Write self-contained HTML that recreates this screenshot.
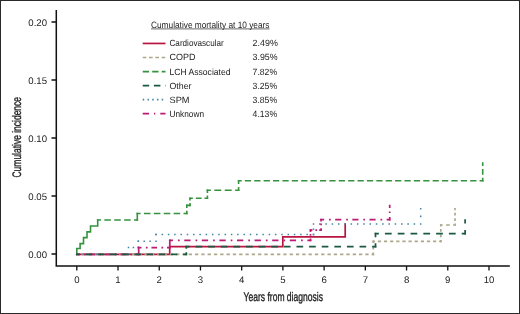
<!DOCTYPE html>
<html><head><meta charset="utf-8"><style>
html,body{margin:0;padding:0;background:#fff;}
body{width:520px;height:314px;overflow:hidden;}
svg{display:block;will-change:transform;}
text{font-family:"Liberation Sans",sans-serif;fill:#222;text-rendering:geometricPrecision;}
</style></head><body>
<svg width="520" height="314" viewBox="0 0 520 314">
<rect x="0" y="0" width="520" height="314" fill="#fff"/>
<rect x="0.5" y="0.5" width="519" height="313" fill="none" stroke="#2a2a2a" stroke-width="1"/>
<path d="M56.3,10 L56.3,266.6 M55.5,265.9 L509.8,265.9" stroke="#111" stroke-width="1.5" fill="none"/>
<path d="M51.5,22.0 L56,22.0 M51.5,80.0 L56,80.0 M51.5,138.0 L56,138.0 M51.5,196.0 L56,196.0 M51.5,254.0 L56,254.0 M76.80,266 L76.80,270.4 M118.02,266 L118.02,270.4 M159.24,266 L159.24,270.4 M200.46,266 L200.46,270.4 M241.68,266 L241.68,270.4 M282.90,266 L282.90,270.4 M324.12,266 L324.12,270.4 M365.34,266 L365.34,270.4 M406.56,266 L406.56,270.4 M447.78,266 L447.78,270.4 M489.00,266 L489.00,270.4 " stroke="#111" stroke-width="1.3" fill="none"/>
<text x="47.00" y="25.50" font-size="9.60" text-anchor="end">0.20</text>
<text x="47.00" y="83.50" font-size="9.60" text-anchor="end">0.15</text>
<text x="47.00" y="141.50" font-size="9.60" text-anchor="end">0.10</text>
<text x="47.00" y="199.50" font-size="9.60" text-anchor="end">0.05</text>
<text x="47.00" y="257.50" font-size="9.60" text-anchor="end">0.00</text>
<text x="76.80" y="283.40" font-size="9.60" text-anchor="middle">0</text>
<text x="118.02" y="283.40" font-size="9.60" text-anchor="middle">1</text>
<text x="159.24" y="283.40" font-size="9.60" text-anchor="middle">2</text>
<text x="200.46" y="283.40" font-size="9.60" text-anchor="middle">3</text>
<text x="241.68" y="283.40" font-size="9.60" text-anchor="middle">4</text>
<text x="282.90" y="283.40" font-size="9.60" text-anchor="middle">5</text>
<text x="324.12" y="283.40" font-size="9.60" text-anchor="middle">6</text>
<text x="365.34" y="283.40" font-size="9.60" text-anchor="middle">7</text>
<text x="406.56" y="283.40" font-size="9.60" text-anchor="middle">8</text>
<text x="447.78" y="283.40" font-size="9.60" text-anchor="middle">9</text>
<text x="489.00" y="283.40" font-size="9.60" text-anchor="middle">10</text>
<text x="243.60" y="300.60" font-size="12.40" textLength="79.30" lengthAdjust="spacingAndGlyphs" stroke="#222" stroke-width="0.35">Years from diagnosis</text>
<text x="151.00" y="27.50" font-size="9.20" textLength="118.50" lengthAdjust="spacingAndGlyphs">Cumulative mortality at 10 years</text>
<text x="169.50" y="46.40" font-size="9.00" textLength="54.20" lengthAdjust="spacingAndGlyphs">Cardiovascular</text>
<text x="252.60" y="46.40" font-size="9.00" textLength="25.20" lengthAdjust="spacingAndGlyphs">2.49%</text>
<text x="169.50" y="60.45" font-size="9.00" textLength="26.00" lengthAdjust="spacingAndGlyphs">COPD</text>
<text x="252.60" y="60.45" font-size="9.00" textLength="25.00" lengthAdjust="spacingAndGlyphs">3.95%</text>
<text x="169.50" y="74.50" font-size="9.00" textLength="61.00" lengthAdjust="spacingAndGlyphs">LCH Associated</text>
<text x="252.60" y="74.50" font-size="9.00" textLength="24.50" lengthAdjust="spacingAndGlyphs">7.82%</text>
<text x="169.50" y="88.55" font-size="9.00" textLength="22.00" lengthAdjust="spacingAndGlyphs">Other</text>
<text x="252.60" y="88.55" font-size="9.00" textLength="24.50" lengthAdjust="spacingAndGlyphs">3.25%</text>
<text x="169.50" y="102.60" font-size="9.00" textLength="20.00" lengthAdjust="spacingAndGlyphs">SPM</text>
<text x="252.60" y="102.60" font-size="9.00" textLength="24.50" lengthAdjust="spacingAndGlyphs">3.85%</text>
<text x="169.50" y="116.65" font-size="9.00" textLength="34.50" lengthAdjust="spacingAndGlyphs">Unknown</text>
<text x="252.60" y="116.65" font-size="9.00" textLength="24.50" lengthAdjust="spacingAndGlyphs">4.13%</text>
<text transform="translate(21.00,177.50) rotate(-90)" x="0" y="0" font-size="12.40" stroke="#222" stroke-width="0.35" textLength="80.50" lengthAdjust="spacingAndGlyphs">Cumulative incidence</text>
<path d="M76.80,254.30 L169.70,254.30 M169.70,254.30 L169.70,246.70 M169.70,246.70 L282.80,246.70 M282.80,246.70 L282.80,236.80 M282.80,236.80 L345.20,236.80 M345.20,236.80 L345.20,224.20" stroke="#b81540" stroke-width="1.70" fill="none" stroke-linecap="square"/>
<path d="M76.80,254.30 L373.30,254.30" stroke="#aea88a" stroke-width="1.70" fill="none" stroke-linecap="square" stroke-dasharray="1.604 4.704" stroke-dashoffset="0.802"/>
<path d="M373.30,254.30 L373.30,241.30" stroke="#aea88a" stroke-width="1.70" fill="none" stroke-linecap="square" stroke-dasharray="1.705 4.795" stroke-dashoffset="0.852"/>
<path d="M373.30,241.30 L440.80,241.30" stroke="#aea88a" stroke-width="1.70" fill="none" stroke-linecap="square" stroke-dasharray="1.514 4.622" stroke-dashoffset="0.757"/>
<path d="M440.80,241.30 L440.80,225.00" stroke="#aea88a" stroke-width="1.70" fill="none" stroke-linecap="square" stroke-dasharray="1.146 4.287" stroke-dashoffset="0.573"/>
<path d="M440.80,225.00 L455.00,225.00" stroke="#aea88a" stroke-width="1.70" fill="none" stroke-linecap="square" stroke-dasharray="2.019 5.081" stroke-dashoffset="1.010"/>
<path d="M455.00,225.00 L455.00,208.80" stroke="#aea88a" stroke-width="1.70" fill="none" stroke-linecap="square" stroke-dasharray="1.129 4.271" stroke-dashoffset="0.564"/>
<path d="M76.80,254.30 L76.80,248.50 M76.80,248.50 L80.10,248.50 M80.10,248.50 L80.10,243.60 M80.10,243.60 L83.50,243.60 M83.50,243.60 L83.50,237.60 M83.50,237.60 L87.00,237.60 M87.00,237.60 L87.00,231.90 M87.00,231.90 L90.50,231.90 M90.50,231.90 L90.50,226.00 M90.50,226.00 L97.70,226.00 M97.70,226.00 L97.70,220.00 M137.30,220.00 L137.30,213.50 M186.80,205.40 L190.00,205.40" stroke="#36923f" stroke-width="1.60" fill="none" stroke-linecap="square"/>
<path d="M97.70,220.00 L137.30,220.00" stroke="#36923f" stroke-width="1.60" fill="none" stroke-linecap="square" stroke-dasharray="4.965 4.935" stroke-dashoffset="2.483"/>
<path d="M137.30,213.50 L186.80,213.50" stroke="#36923f" stroke-width="1.60" fill="none" stroke-linecap="square" stroke-dasharray="4.965 4.935" stroke-dashoffset="2.483"/>
<path d="M186.80,213.50 L186.80,205.40" stroke="#36923f" stroke-width="1.60" fill="none" stroke-linecap="square" stroke-dasharray="3.772 4.328" stroke-dashoffset="1.886"/>
<path d="M190.00,205.40 L190.00,198.20" stroke="#36923f" stroke-width="1.60" fill="none" stroke-linecap="square" stroke-dasharray="3.175 4.025" stroke-dashoffset="1.587"/>
<path d="M190.00,198.20 L207.40,198.20" stroke="#36923f" stroke-width="1.60" fill="none" stroke-linecap="square" stroke-dasharray="4.169 4.531" stroke-dashoffset="2.085"/>
<path d="M207.40,198.20 L207.40,190.30" stroke="#36923f" stroke-width="1.60" fill="none" stroke-linecap="square" stroke-dasharray="3.639 4.261" stroke-dashoffset="1.819"/>
<path d="M207.40,190.30 L238.60,190.30" stroke="#36923f" stroke-width="1.60" fill="none" stroke-linecap="square" stroke-dasharray="5.297 5.103" stroke-dashoffset="2.648"/>
<path d="M238.60,190.30 L238.60,180.70" stroke="#36923f" stroke-width="1.60" fill="none" stroke-linecap="square" stroke-dasharray="4.766 4.834" stroke-dashoffset="2.383"/>
<path d="M238.60,180.70 L482.70,180.70" stroke="#36923f" stroke-width="1.60" fill="none" stroke-linecap="square" stroke-dasharray="4.626 4.762" stroke-dashoffset="2.313"/>
<path d="M482.70,180.70 L482.70,163.00" stroke="#36923f" stroke-width="1.60" fill="none" stroke-linecap="square" stroke-dasharray="4.269 4.581" stroke-dashoffset="2.134"/>
<path d="M76.80,254.30 L128.50,254.30" stroke="#4584a6" stroke-width="1.50" fill="none" stroke-linecap="square" stroke-dasharray="0.000 6.463" stroke-dashoffset="0.000"/>
<path d="M128.50,254.30 L128.50,247.60" stroke="#4584a6" stroke-width="1.50" fill="none" stroke-linecap="square" stroke-dasharray="0.000 6.700" stroke-dashoffset="0.000"/>
<path d="M128.50,247.60 L138.30,247.60" stroke="#4584a6" stroke-width="1.50" fill="none" stroke-linecap="square" stroke-dasharray="0.000 4.900" stroke-dashoffset="0.000"/>
<path d="M138.30,247.60 L138.30,241.30" stroke="#4584a6" stroke-width="1.50" fill="none" stroke-linecap="square" stroke-dasharray="0.000 6.300" stroke-dashoffset="0.000"/>
<path d="M138.30,241.30 L156.00,241.30" stroke="#4584a6" stroke-width="1.50" fill="none" stroke-linecap="square" stroke-dasharray="0.000 5.900" stroke-dashoffset="0.000"/>
<path d="M156.00,241.30 L156.00,234.50" stroke="#4584a6" stroke-width="1.50" fill="none" stroke-linecap="square" stroke-dasharray="0.000 6.800" stroke-dashoffset="0.000"/>
<path d="M156.00,234.50 L313.50,234.50" stroke="#4584a6" stroke-width="1.50" fill="none" stroke-linecap="square" stroke-dasharray="0.000 6.300" stroke-dashoffset="0.000"/>
<path d="M313.50,234.50 L313.50,224.00" stroke="#4584a6" stroke-width="1.50" fill="none" stroke-linecap="square" stroke-dasharray="0.000 5.250" stroke-dashoffset="0.000"/>
<path d="M313.50,224.00 L420.70,224.00" stroke="#4584a6" stroke-width="1.50" fill="none" stroke-linecap="square" stroke-dasharray="0.000 6.306" stroke-dashoffset="0.000"/>
<path d="M420.70,224.00 L420.70,208.70" stroke="#4584a6" stroke-width="1.50" fill="none" stroke-linecap="square" stroke-dasharray="0.079 7.571" stroke-dashoffset="0.039"/>
<path d="M138.70,254.30 L138.70,247.60 M169.80,247.60 L169.80,240.40" stroke="#bb1d76" stroke-width="1.70" fill="none" stroke-linecap="square"/>
<path d="M76.80,254.30 L138.70,254.30" stroke="#bb1d76" stroke-width="1.70" fill="none" stroke-linecap="square" stroke-dasharray="3.839 6.096 0.000 5.539" stroke-dashoffset="1.920"/>
<path d="M138.70,247.60 L169.80,247.60" stroke="#bb1d76" stroke-width="1.70" fill="none" stroke-linecap="square" stroke-dasharray="3.866 6.118 0.000 5.566" stroke-dashoffset="1.933"/>
<path d="M169.80,240.40 L310.50,240.40" stroke="#bb1d76" stroke-width="1.70" fill="none" stroke-linecap="square" stroke-dasharray="4.596 6.696 0.000 6.296" stroke-dashoffset="2.298"/>
<path d="M310.50,240.40 L310.50,230.20" stroke="#bb1d76" stroke-width="1.70" fill="none" stroke-linecap="square" stroke-dasharray="1.951 4.598 0.000 3.651" stroke-dashoffset="0.976"/>
<path d="M310.50,230.20 L321.10,230.20" stroke="#bb1d76" stroke-width="1.70" fill="none" stroke-linecap="square" stroke-dasharray="2.094 4.711 0.000 3.794" stroke-dashoffset="1.047"/>
<path d="M321.10,230.20 L321.10,219.60" stroke="#bb1d76" stroke-width="1.70" fill="none" stroke-linecap="square" stroke-dasharray="2.094 4.711 0.000 3.794" stroke-dashoffset="1.047"/>
<path d="M321.10,219.60 L389.70,219.60" stroke="#bb1d76" stroke-width="1.70" fill="none" stroke-linecap="square" stroke-dasharray="4.439 6.572 0.000 6.139" stroke-dashoffset="2.219"/>
<path d="M389.70,219.60 L389.70,205.60" stroke="#bb1d76" stroke-width="1.70" fill="none" stroke-linecap="square" stroke-dasharray="3.311 5.677 0.000 5.011" stroke-dashoffset="1.656"/>
<path d="M76.80,254.30 L186.30,254.30" stroke="#1b5940" stroke-width="1.70" fill="none" stroke-linecap="square" stroke-dasharray="4.719 7.448" stroke-dashoffset="2.359"/>
<path d="M186.30,254.30 L186.30,246.70" stroke="#1b5940" stroke-width="1.70" fill="none" stroke-linecap="square" stroke-dasharray="2.309 5.291" stroke-dashoffset="1.155"/>
<path d="M186.30,246.70 L375.50,246.70" stroke="#1b5940" stroke-width="1.70" fill="none" stroke-linecap="square" stroke-dasharray="4.954 7.659" stroke-dashoffset="2.477"/>
<path d="M375.50,246.70 L375.50,233.70" stroke="#1b5940" stroke-width="1.70" fill="none" stroke-linecap="square" stroke-dasharray="5.158 7.842" stroke-dashoffset="2.579"/>
<path d="M375.50,233.70 L465.10,233.70" stroke="#1b5940" stroke-width="1.70" fill="none" stroke-linecap="square" stroke-dasharray="5.053 7.747" stroke-dashoffset="2.526"/>
<path d="M465.10,233.70 L465.10,220.00" stroke="#1b5940" stroke-width="1.70" fill="none" stroke-linecap="square" stroke-dasharray="5.528 8.172" stroke-dashoffset="2.764"/>
<line x1="151" y1="28.9" x2="269.5" y2="28.9" stroke="#444" stroke-width="0.8"/>
<line x1="142.7" y1="43.45" x2="165.5" y2="43.45" stroke="#b81540" stroke-width="1.7"/>
<line x1="142.7" y1="57.50" x2="165.5" y2="57.50" stroke="#aea88a" stroke-width="1.7" stroke-dasharray="3.7 2.6"/>
<line x1="142.7" y1="71.55" x2="165.5" y2="71.55" stroke="#36923f" stroke-width="1.7" stroke-dasharray="6.3 3.2"/>
<line x1="142.7" y1="85.60" x2="165.5" y2="85.60" stroke="#1b5940" stroke-width="1.7" stroke-dasharray="6.5 4.7"/>
<line x1="142.7" y1="99.65" x2="165.5" y2="99.65" stroke="#4584a6" stroke-width="1.7" stroke-dasharray="1.5 3.25"/>
<line x1="142.7" y1="113.70" x2="165.5" y2="113.70" stroke="#bb1d76" stroke-width="1.7" stroke-dasharray="6.3 5 1.3 5"/>
</svg>
</body></html>
